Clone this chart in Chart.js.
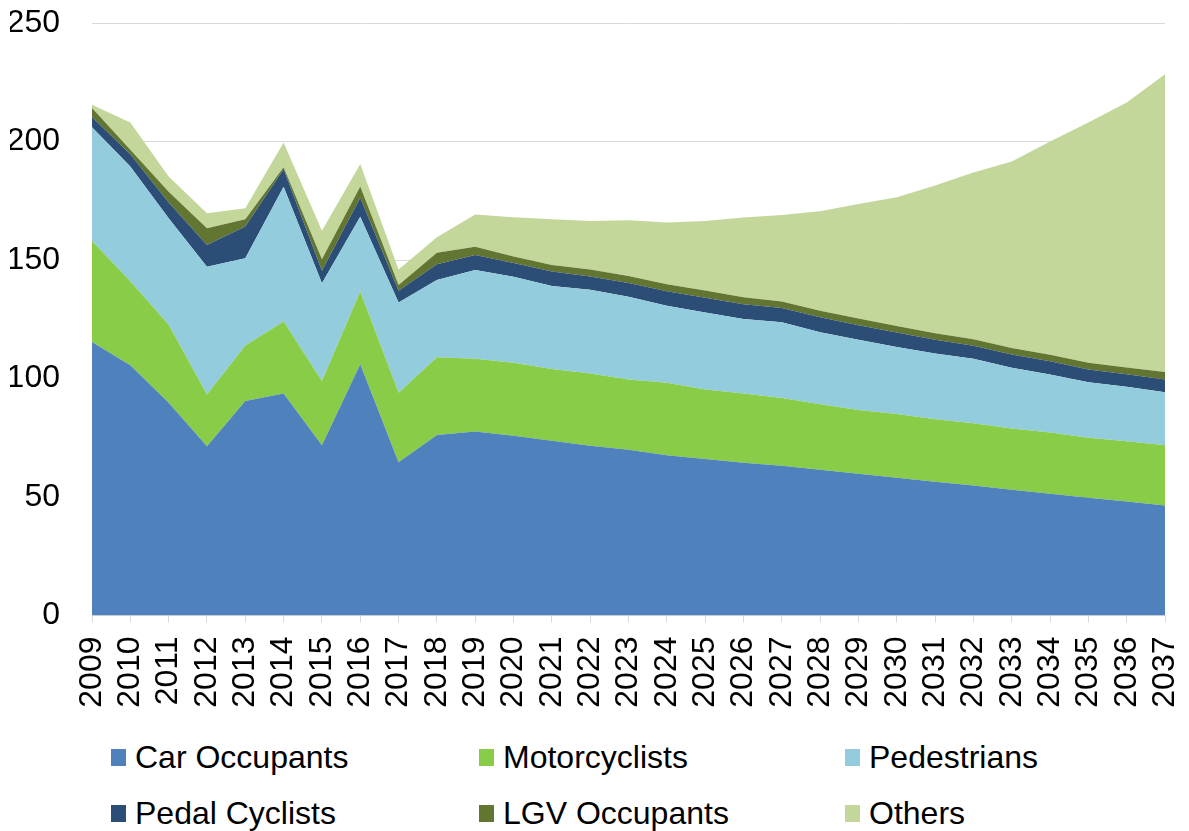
<!DOCTYPE html>
<html>
<head>
<meta charset="utf-8">
<script src="https://cdn.jsdelivr.net/npm/chart.js@4"></script>
<style>
  html, body { margin: 0; padding: 0; background: #fff; }
  #wrap { position: relative; width: 1189px; height: 831px; }
  #chart { position: absolute; left: 0; top: 0; }
  #legend { position: absolute; left: 0; top: 731px; width: 1189px; font-family: "Liberation Sans", Arial, sans-serif; font-size: 32px; color: #000; }
  .item { position: absolute; display: flex; align-items: center; white-space: nowrap; }
  .box { width: 15px; height: 17px; margin-right: 9px; }
</style>
</head>
<body>
<div id="wrap">
  <canvas id="chart" width="1189" height="720"></canvas>
  <div id="legend"></div>
</div>
<script>
// --- Data ---
const years = ['2009','2010','2011','2012','2013','2014','2015','2016','2017','2018','2019','2020','2021','2022','2023',
               '2024','2025','2026','2027','2028','2029','2030','2031','2032','2033','2034','2035','2036','2037'];

const carOccupants  = [115.4,105.6,89.8,71.4,90.5,93.7,71.8,106.0,64.7,76.2,77.6,75.8,73.7,71.6,69.9,
                       67.6,66.0,64.5,63.2,61.5,59.8,58.1,56.4,54.8,53.1,51.4,49.7,48.1,46.4];
const motorcyclists = [42.6,35.4,32.9,21.9,23.4,30.3,27.1,30.7,29.3,32.8,30.7,30.8,30.3,30.5,29.7,
                       30.6,29.4,29.2,28.6,27.6,26.9,26.9,26.4,26.3,25.8,25.8,25.3,25.4,25.4];
const pedestrians   = [48.0,48.4,44.9,53.9,36.8,56.9,41.3,31.5,38.1,32.6,37.5,36.3,35.0,35.3,34.9,
                       32.5,32.5,31.4,31.9,30.4,29.7,28.3,27.7,27.2,25.6,24.5,23.4,23.0,22.4];
const pedalCyclists = [4.3,5.2,6.7,9.1,13.4,7.4,5.3,8.1,4.9,6.6,6.3,5.8,6.1,5.6,5.8,
                       6.1,6.2,6.2,6.0,6.3,6.1,6.1,5.9,5.5,5.6,5.6,5.4,5.3,5.4];
const lgvOccupants  = [3.8,1.9,4.5,7.1,3.1,0.8,4.8,4.7,2.4,4.9,3.5,2.8,2.8,3.0,3.0,
                       3.0,3.0,3.0,2.8,2.8,2.8,2.8,2.7,2.8,2.8,2.7,2.8,2.8,3.1];
const others        = [1.4,11.5,6.4,6.3,4.6,10.5,12.0,9.5,6.6,6.5,13.6,16.5,19.3,20.5,23.5,
                       26.0,29.4,33.6,36.5,42.0,48.3,54.3,62.3,70.3,78.7,90.0,101.4,111.9,125.7];

const yTicks = [0, 50, 100, 150, 200, 250];

const seriesNames  = ['Car Occupants','Motorcyclists','Pedestrians','Pedal Cyclists','LGV Occupants','Others'];
const seriesValues = [carOccupants, motorcyclists, pedestrians, pedalCyclists, lgvOccupants, others];
const seriesColors = ['#4f81bd','#88cc48','#93cddd','#2c4d75','#627632','#c4d79b'];

const FONT = { family: '"Liberation Sans", Arial, sans-serif', size: 32 };

// --- Chart ---
const datasets = seriesNames.map((name, i) => ({
    label: name,
    data: seriesValues[i],
    backgroundColor: seriesColors[i],
    borderColor: seriesColors[i],
    borderWidth: 0,
    pointRadius: 0,
    tension: 0,
    fill: i === 0 ? 'origin' : '-1'
}));

new Chart(document.getElementById('chart'), {
    type: 'line',
    data: { labels: years, datasets },
    options: {
        responsive: false,
        animation: false,
        layout: { padding: { left: 10, right: 24, top: 23, bottom: 0 } },
        plugins: { legend: { display: false }, tooltip: { enabled: false } },
        scales: {
            x: {
                offset: false,
                grid: { drawOnChartArea: false, drawTicks: true, tickLength: 7, color: '#d9d9d9' },
                border: { color: '#d9d9d9', width: 1 },
                ticks: { font: FONT, color: '#000', minRotation: 90, maxRotation: 90, autoSkip: false, padding: 14 },
                afterFit: (axis) => {
                    axis.height = 104.5;
                    axis.paddingLeft = 0;
                    axis.paddingRight = 0;
                }
            },
            y: {
                stacked: true,
                min: 0, max: 250,
                afterBuildTicks: (axis) => { axis.ticks = yTicks.map(v => ({ value: v })); },
                grid: { color: '#d9d9d9', drawTicks: false },
                border: { display: false },
                ticks: { font: FONT, color: '#000', padding: 32 },
                afterFit: (axis) => {
                    axis.width = 82;
                    axis.paddingTop = 0;
                    axis.paddingBottom = 0;
                }
            }
        }
    }
});

// --- Legend (3 columns x 2 rows) ---
const legend = document.getElementById('legend');
const colX = [111, 479, 845];
const rowY = [8, 64];
seriesNames.forEach((name, i) => {
    const el = document.createElement('div');
    el.className = 'item';
    el.style.left = colX[i % 3] + 'px';
    el.style.top = rowY[Math.floor(i / 3)] + 'px';
    el.innerHTML = `<span class="box" style="background:${seriesColors[i]}"></span><span>${name}</span>`;
    legend.appendChild(el);
});
</script>
</body>
</html>
